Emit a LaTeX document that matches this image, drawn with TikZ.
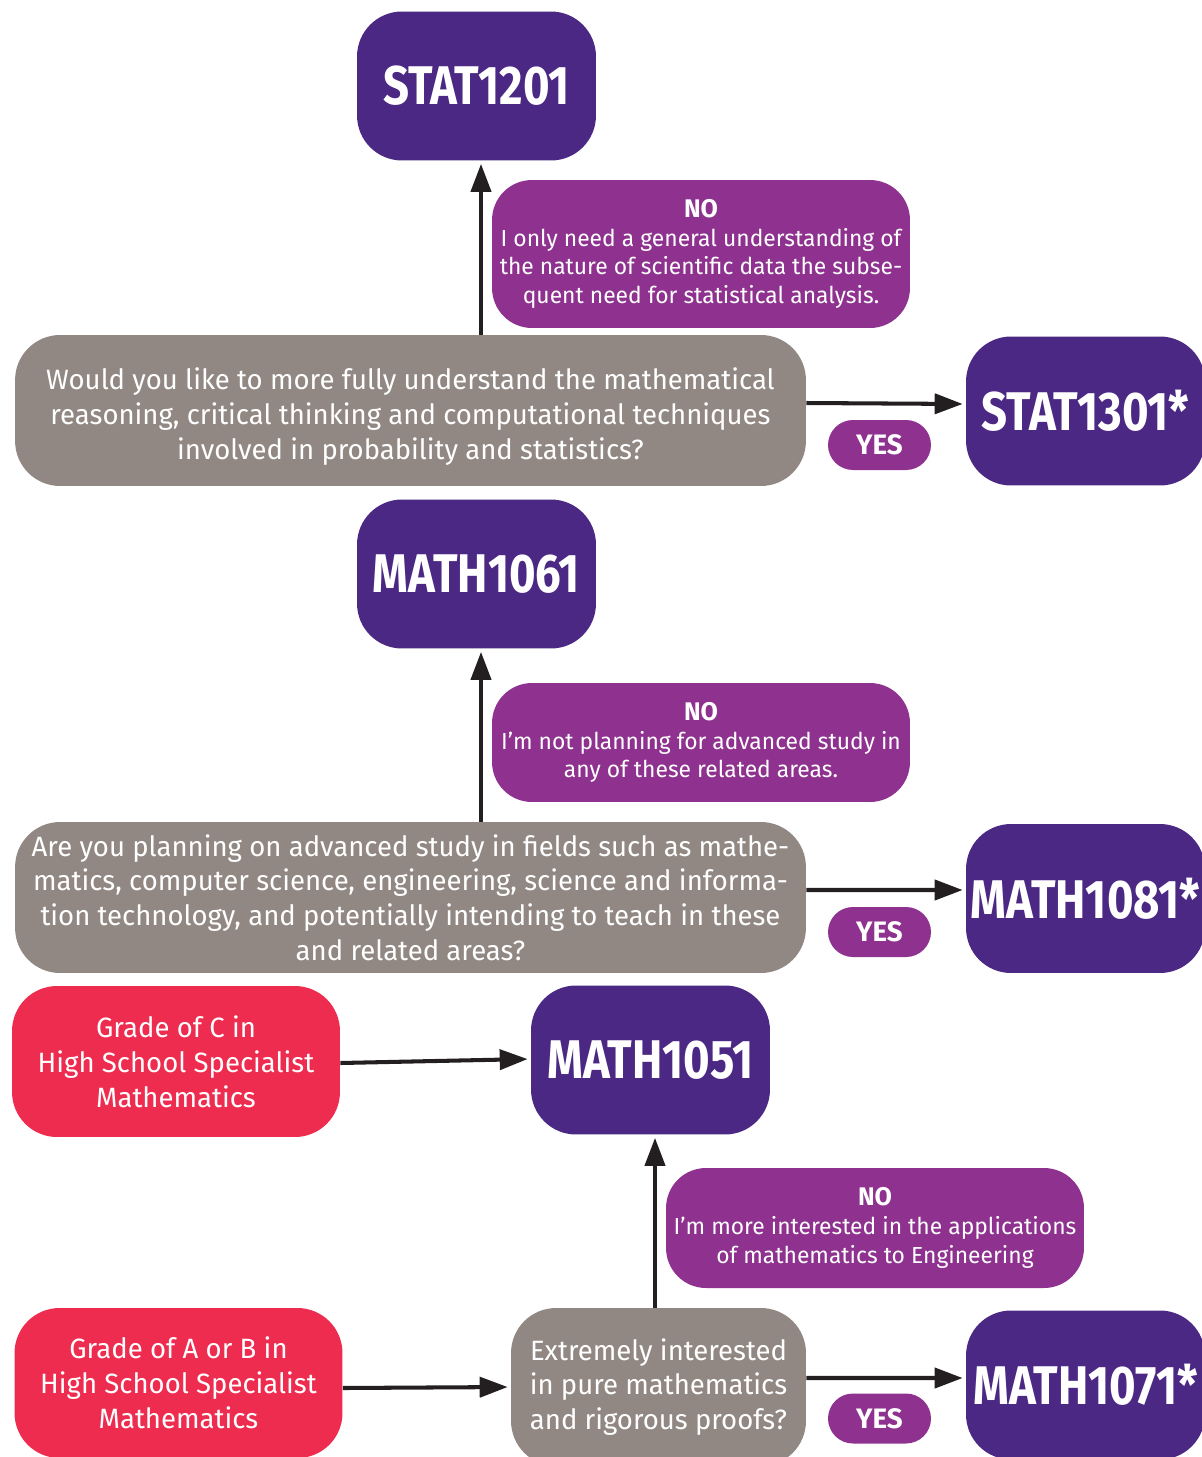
\documentclass[tikz,border=0pt]{standalone}
\usepackage{fontspec}
\setmainfont{Fira Sans}[FakeStretch=0.985]
\newfontfamily\codefont{Fira Sans}[FakeStretch=0.835]
\usetikzlibrary{arrows.meta}
\definecolor{codepurple}{HTML}{4B2884}
\definecolor{nopurple}{HTML}{8E318F}
\definecolor{qgray}{HTML}{918883}
\definecolor{gradered}{HTML}{EE2C4F}
\definecolor{arrowblack}{HTML}{231F20}
\newcommand{\nohead}{{\bfseries\fontsize{14.5}{16.4}\selectfont NO}}

\begin{document}
\begin{tikzpicture}[x=0.02cm, y=-0.02cm, >={Triangle[length=0.56cm, width=0.4cm]},
	box/.style={text=white, align=center, inner sep=0pt},
	code/.style={box, fill=codepurple, rounded corners=0.9cm, minimum width=4.78cm, minimum height=2.98cm, font=\codefont\bfseries\fontsize{31}{31}\selectfont},
	quest/.style={box, fill=qgray, rounded corners=0.9cm, minimum height=3.02cm, font=\fontsize{15.9}{19.8}\selectfont},
	grade/.style={box, fill=gradered, rounded corners=0.9cm, minimum width=6.56cm, minimum height=3.02cm, font=\fontsize{15.9}{19.8}\selectfont},
	nobox/.style={box, fill=nopurple, rounded corners=0.8cm, minimum width=8.36cm, font=\fontsize{13.2}{16.4}\selectfont},
	yesbox/.style={box, fill=nopurple, rounded corners=0.5cm, minimum width=2.06cm, minimum height=1cm, font=\bfseries\fontsize{16}{16}\selectfont},
	arr/.style={->, arrowblack, line width=2.3pt, shorten >=0.06cm}]
	\useasboundingbox (0,0) rectangle (1202,1457);
	\node[code] (stat1201) at (476.5,86) {STAT1201};
	\node[nobox, minimum height=2.96cm] (no1) at (701,254) {\nohead\\I only need a general understanding of\\the nature of scientific data the subse-\\quent need for statistical analysis.};
	\node[quest, minimum width=15.82cm] (q1) at (410.5,410.5) {\rule{0pt}{19pt}Would you like to more fully understand the mathematical\\reasoning, critical thinking and computational techniques\\involved in probability and statistics?};
	\node[code] (stat1301) at (1085.5,411) {STAT1301*};
	\node[yesbox] (yes1) at (879.5,445) {YES};
	\draw[arr] ([xshift=0.09cm]stat1201.south |- q1.north) -- ([xshift=0.09cm]stat1201.south);
	\draw[arr] ([yshift=0.15cm]q1.east) -- ([yshift=0.14cm]stat1301.west);

	\node[code] (math1061) at (476.5,574) {MATH1061};
	\node[nobox, minimum height=2.38cm] (no2) at (701,742.5) {\nohead\\I'm not planning for advanced study in\\any of these related areas.};
	\node[quest, minimum width=15.82cm] (q2) at (410.5,897.5) {Are you planning on advanced study in fields such as mathe-\\matics, computer science, engineering, science and informa-\\tion technology, and potentially intending to teach in these\\and related areas?};
	\node[code] (math1081) at (1085.5,898.5) {MATH1081*};
	\node[yesbox] (yes2) at (879.5,932) {YES};
	\draw[arr] ([xshift=0.09cm]math1061.south |- q2.north) -- ([xshift=0.09cm]math1061.south);
	\draw[arr] ([yshift=0.15cm]q2.east) -- ([yshift=0.17cm]math1081.west);

	\node[grade] (gradeC) at (176,1061.5) {Grade of C in\\High School Specialist\\Mathematics};
	\node[code] (math1051) at (650.5,1060) {MATH1051};
	\draw[arr] ([yshift=-0.03cm]gradeC.east) -- ([yshift=0.02cm]math1051.west);

	\node[nobox, minimum height=2.4cm] (no3) at (875,1228) {\nohead\\I'm more interested in the applications\\of mathematics to Engineering};
	\node[grade, minimum height=3cm] (gradeAB) at (178.5,1383) {Grade of A or B in\\High School Specialist\\Mathematics};
	\node[quest, minimum width=5.9cm, minimum height=3.16cm] (q3) at (658.5,1387) {Extremely interested\\in pure mathematics\\and rigorous proofs?};
	\node[code] (math1071) at (1085.5,1385) {MATH1071*};
	\node[yesbox] (yes3) at (879.5,1418.5) {YES};
	\draw[arr] ([xshift=0.09cm]math1051.south |- q3.north) -- ([xshift=0.09cm]math1051.south);
	\draw[arr] ([yshift=-0.1cm]gradeAB.east) -- (q3.west);
	\draw[arr] ([yshift=0.18cm]q3.east) -- ([yshift=0.14cm]math1071.west);
\end{tikzpicture}
\end{document}
